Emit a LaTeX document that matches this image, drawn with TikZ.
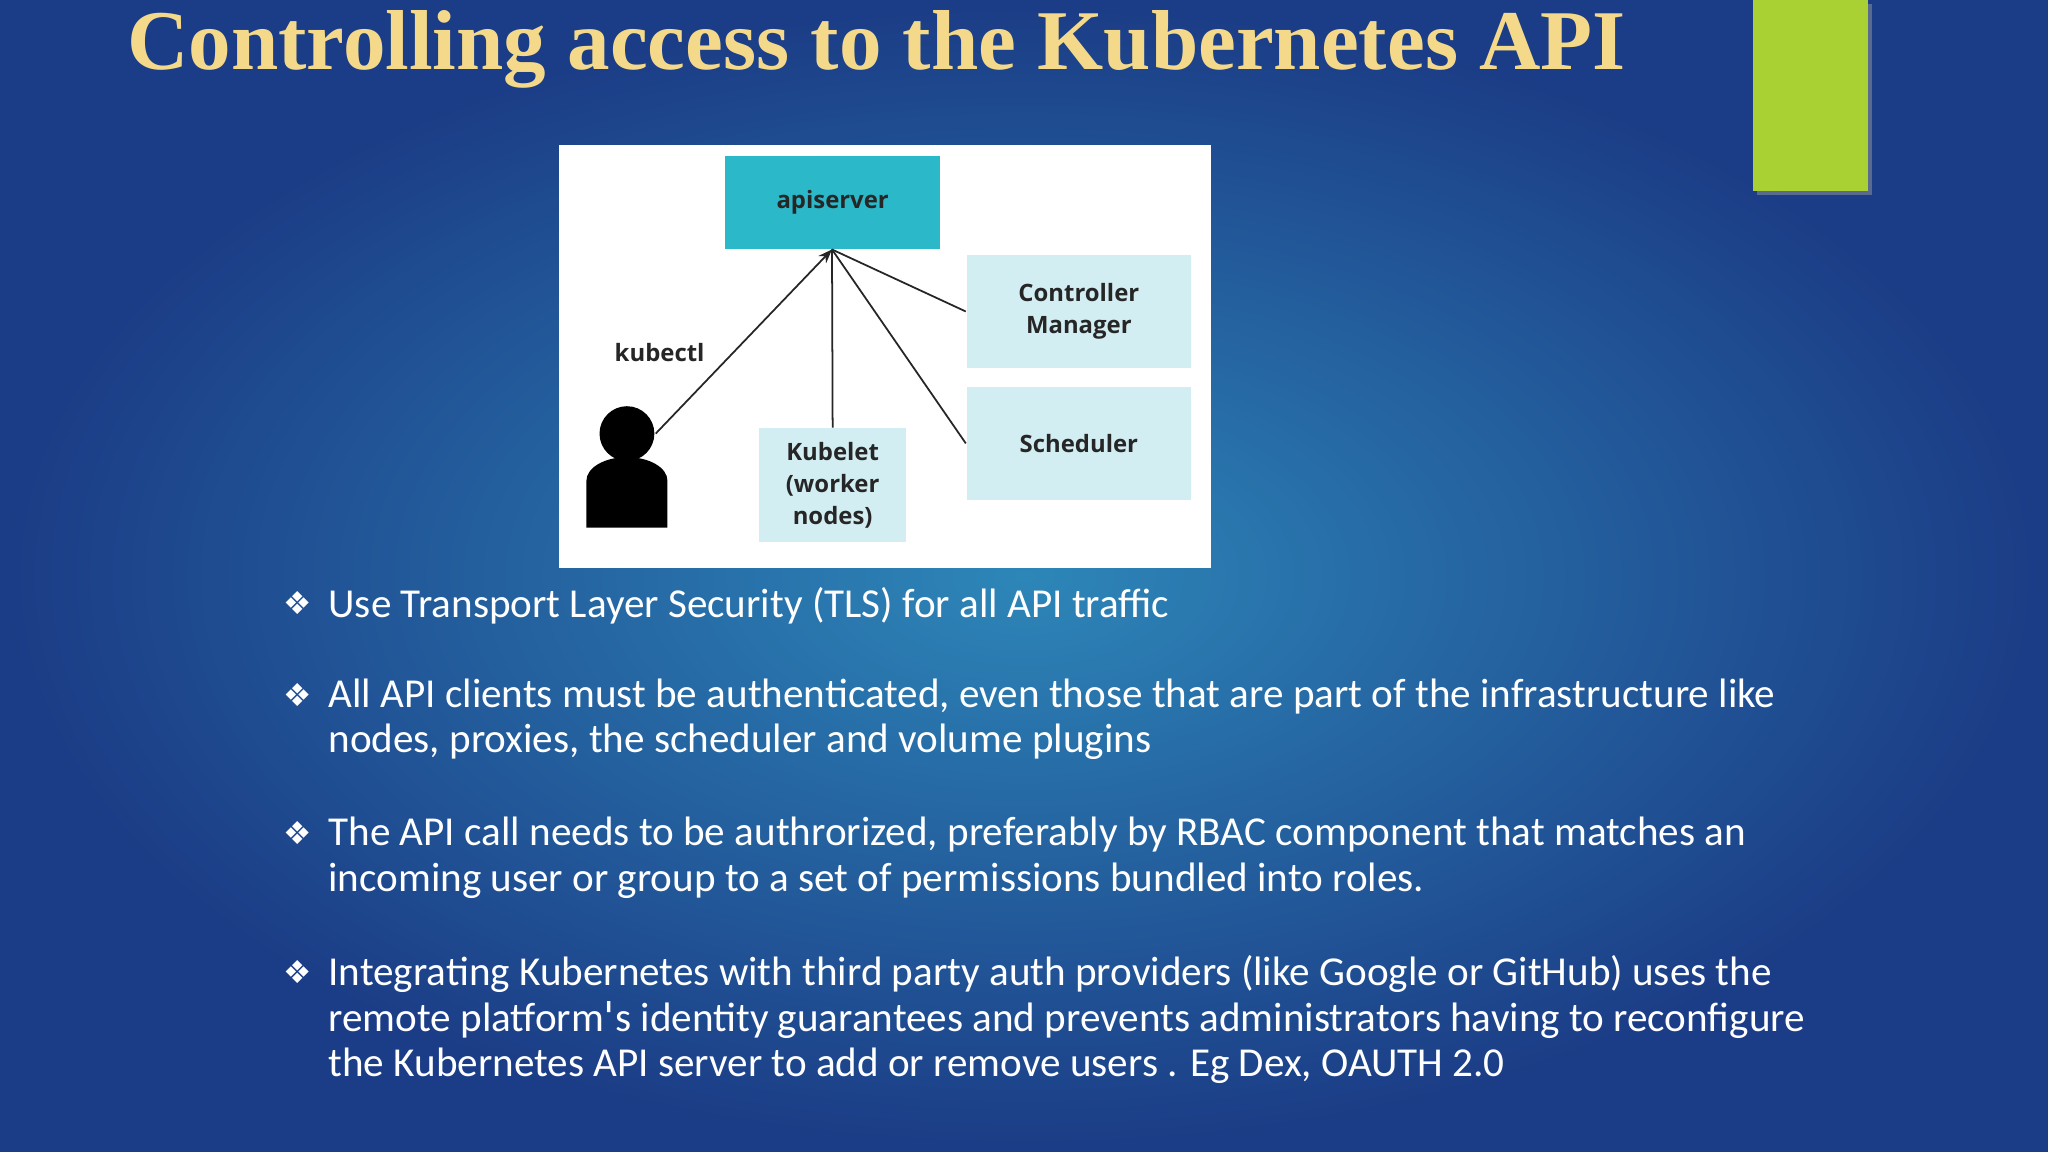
\documentclass[tikz,border=0pt]{standalone}
\usepackage{fontspec}
\setmainfont{Carlito}
\newfontfamily\titlefont{Liberation Serif}
\newfontfamily\symfont{DejaVu Sans}
\newfontfamily\diagfont{Open Sans}
\usetikzlibrary{arrows.meta,shadows}
\definecolor{bgdark}{HTML}{1B3C86}
\definecolor{bglight}{HTML}{2D86B8}
\definecolor{titlecol}{HTML}{F4D98A}
\definecolor{greenbar}{HTML}{A9D134}
\definecolor{teal}{HTML}{2BB8C8}
\definecolor{pale}{HTML}{D3EEF2}
\tikzset{
  dfont/.style={font=\diagfont\bfseries\fontsize{6.8}{9}\selectfont, text=black!85},
  box/.style={dfont, fill=pale, minimum width=172*0.013061cm, minimum height=87*0.013061cm, align=center},
  bul/.style={anchor=north west, text=white, font=\fontsize{11.7}{13}\selectfont, align=left, inner sep=0},
  sym/.style={text=white, font=\symfont\fontsize{9}{10}\selectfont},
  conn/.style={black!85, line width=0.5pt}
}
\begin{document}
\begin{tikzpicture}[x=0.013061cm,y=-0.013061cm]
\shade[inner color=bglight, outer color=bgdark] (0,0) rectangle (1568,882);
\useasboundingbox (0,0) rectangle (1568,882);
\node[anchor=west, text=titlecol, font=\titlefont\bfseries\fontsize{24.2}{26}\selectfont, inner sep=0] (title) at (97,38) {Controlling access to the Kubernetes API};
\fill[black!40, opacity=0.5] (1345,3) rectangle (1433,149);
\fill[greenbar] (1342,0) rectangle (1430,146);
\fill[white] (428,111) rectangle (927,435);
\node[dfont, fill=teal, minimum width=165*0.013061cm, minimum height=71*0.013061cm] (api) at (637.5,155) {apiserver};
\node[box] (cm) at (826,238.5) {Controller\\Manager};
\node[box] (sch) at (826,339.5) {Scheduler};
\node[box, minimum width=113*0.013061cm] (kub) at (637.5,371.5) {Kubelet\\(worker\\nodes)};
\node[dfont] (kctl) at (505,270) {kubectl};
\fill[black] (480,332) circle (21);
\fill[black] (449,404) -- (449,368) arc[start angle=180,end angle=0,x radius=31,y radius=-18] -- (511,404) -- cycle;
\coordinate (apex) at (637,191);
\coordinate (pers) at (502,332);
\draw[conn,-{Stealth[length=4pt]}] (pers) -- (apex);
\draw[conn] (kub.north) -- (apex);
\draw[conn] (sch.west) -- (apex);
\draw[conn] (cm.west) -- (apex);
\foreach \y/\n in {462/s1,532/s2,638/s3,744/s4} \node[sym] (\n) at (228,\y) {❖};
\node[bul] (b1) at (251,449) {Use Transport Layer Security (TLS) for all API traffic};
\node[bul] (b2) at (251,519) {All API clients must be authenticated, even those that are part of the infrastructure like\\nodes, proxies, the scheduler and volume plugins};
\node[bul] (b3) at (251,625) {The API call needs to be authrorized, preferably by RBAC component that matches an\\incoming user or group to a set of permissions bundled into roles.};
\node[bul] (b4) at (251,731) {Integrating Kubernetes with third party auth providers (like Google or GitHub) uses the\\remote platform{\symfont\char"0027}s identity guarantees and prevents administrators having to reconfigure\\the Kubernetes API server to add or remove users . Eg Dex, OAUTH 2.0};
\end{tikzpicture}
\end{document}
